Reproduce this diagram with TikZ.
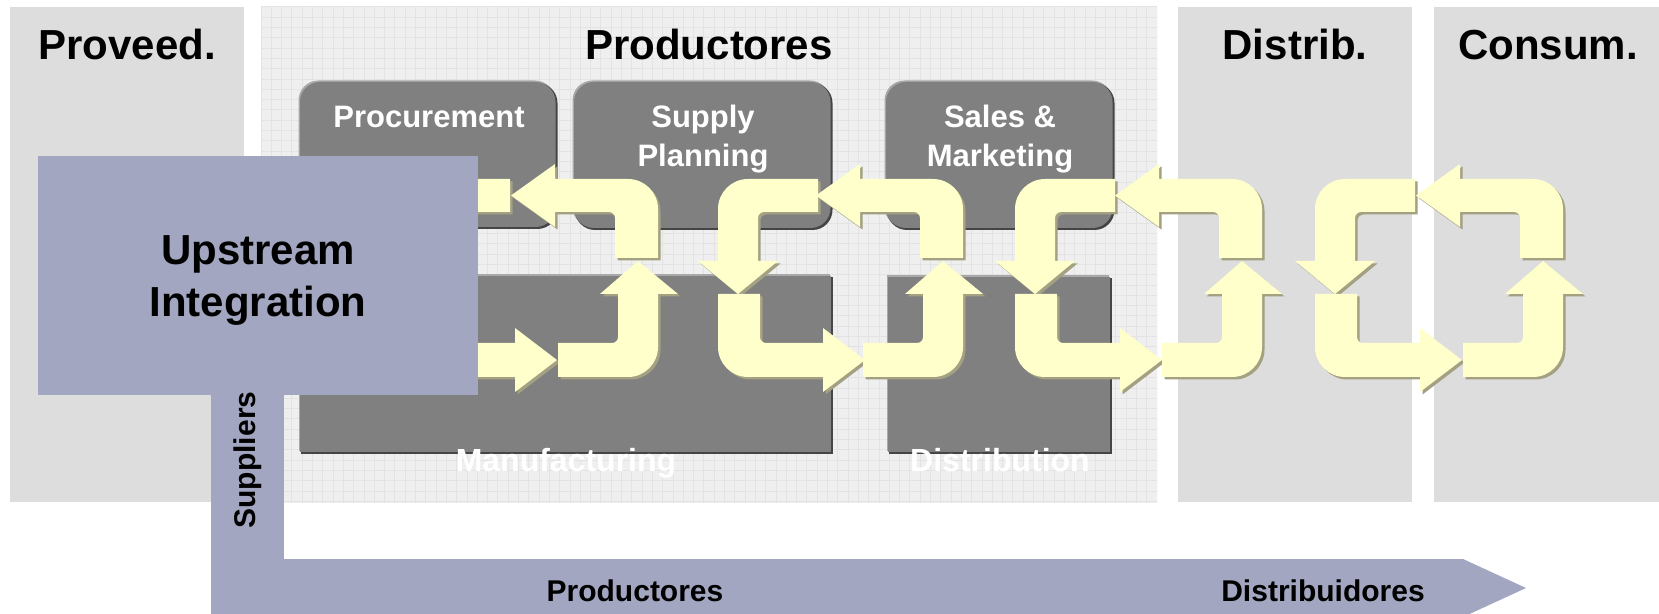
\documentclass[tikz,border=0pt]{standalone}
\usepackage{fontspec}
\setmainfont{Liberation Sans}
\definecolor{panelgray}{HTML}{DDDDDD}
\definecolor{gridbg}{HTML}{EFEFEF}
\definecolor{gridln}{HTML}{E3E3E3}
\definecolor{boxgray}{HTML}{808080}
\definecolor{boxlite}{HTML}{A8A8A8}
\definecolor{boxdark}{HTML}{454545}
\definecolor{bluegray}{HTML}{A2A6C0}
\definecolor{ayel}{HTML}{FFFFCC}
\definecolor{ashad}{HTML}{A3A182}
\tikzset{
  title/.style={font=\fontsize{21pt}{25pt}\selectfont\bfseries, anchor=base, inner sep=0pt},
  boxlabel/.style={font=\fontsize{15.5pt}{19.5pt}\selectfont\bfseries, text=white, align=center, anchor=base, inner sep=0pt},
  sublabel/.style={font=\fontsize{16pt}{19pt}\selectfont\bfseries, text=white, anchor=base, inner sep=0pt},
  uplabel/.style={font=\fontsize{21pt}{26pt}\selectfont\bfseries, align=center, anchor=base, inner sep=0pt},
  botlabel/.style={font=\fontsize{15pt}{18pt}\selectfont\bfseries, anchor=base, inner sep=0pt},
  gridline/.style={draw=gridln, line width=0.5pt},
  shadowshift/.style={ashad, shift={(2.5,2.5)}}
}
% dark box: x0 y0 x1 y1 radius
\newcommand{\DBox}[5]{%
  \fill[boxlite, rounded corners=#5] (#1-1.5,#2-1.5) rectangle (#3-1,#4-1);
  \fill[boxdark, rounded corners=#5] (#1+1,#2+1) rectangle (#3+1.5,#4+2);
  \fill[boxgray, rounded corners=#5] (#1,#2) rectangle (#3-0.5,#4);
}
% ")" upper piece, relative to outer right edge
\newcommand{\ShpRT}[1]{\fill[#1] (-43,258) -- (-43,218) arc[start angle=0, end angle=-90, radius=6] -- (-103,212) -- (-103,227) -- (-147,195.5) -- (-103,164) -- (-103,179) -- (-30,179) arc[start angle=-90, end angle=0, radius=30] -- (0,258) -- cycle;}
% ")" lower piece
\newcommand{\ShpRB}[1]{\fill[#1] (-100,343) -- (-46,343) arc[start angle=90, end angle=0, radius=6] -- (-40,294) -- (-58,294) -- (-20,261) -- (20,294) -- (0,294) -- (0,347) arc[start angle=0, end angle=90, radius=30] -- (-100,377) -- cycle;}
% "(" upper piece, relative to outer left edge
\newcommand{\ShpLT}[1]{\fill[#1] (100,179) -- (30,179) arc[start angle=-90, end angle=-180, radius=30] -- (0,261) -- (-20,261) -- (20,294) -- (60,261) -- (40,261) -- (40,218) arc[start angle=180, end angle=270, radius=6] -- (100,212) -- cycle;}
% "(" lower piece
\newcommand{\ShpLB}[1]{\fill[#1] (0,294) -- (0,347) arc[start angle=180, end angle=90, radius=30] -- (105,377) -- (105,392) -- (147,360) -- (105,328) -- (105,343) -- (48,343) arc[start angle=90, end angle=180, radius=6] -- (42,294) -- cycle;}
\begin{document}
\begin{tikzpicture}[x=0.5pt,y=-0.5pt]
\useasboundingbox (0,0) rectangle (1659,614);
\clip (0,0) rectangle (1659,614);
\fill[white] (0,0) rectangle (1659,614);
% panels
\fill[panelgray] (10,7) rectangle (244,502);
\fill[gridbg] (261,7) rectangle (1157,503);
\begin{scope}
  \clip (261,7) rectangle (1157,503);
  \foreach \i in {0,...,87} \draw[gridline] ({261+10.3*\i},7) -- ({261+10.3*\i},503);
  \foreach \j in {0,...,48} \draw[gridline] (261,{7+10.3*\j}) -- (1157,{7+10.3*\j});
\end{scope}
\fill[panelgray] (1178,7) rectangle (1412,502);
\fill[panelgray] (1434,7) rectangle (1659,502);
% titles
\node[title] (tProv) at (127,60) {Proveed.};
\node[title] (tProd) at (709,60) {Productores};
\node[title] (tDist) at (1295,60) {Distrib.};
\node[title] (tCons) at (1548,60) {Consum.};
% dark function boxes
\DBox{300}{82}{556}{227}{10pt}
\DBox{574}{82}{831}{228}{10pt}
\DBox{886}{82}{1113}{228}{10pt}
\DBox{300}{276}{831}{452}{0pt}
\DBox{888}{277}{1110}{452}{0pt}
\node[boxlabel] (procL) at (429,128) {Procurement};
\node[boxlabel] (supL) at (703,167) {Supply\\Planning};
\node[boxlabel] (salL) at (1000,167) {Sales \&\\Marketing};
\node[sublabel] (manL) at (566,472) {Manufacturing};
\node[sublabel] (disL) at (1000,472) {Distribution};
% yellow loop arrows: shadows first
\foreach \L in {410,718,1015,1315} {
  \begin{scope}[shift={(\L,0)}]
    \ShpLT{shadowshift}\ShpLB{shadowshift}
  \end{scope}}
\foreach \R in {658,963,1262,1563} {
  \begin{scope}[shift={(\R,0)}]
    \ShpRT{shadowshift}\ShpRB{shadowshift}
  \end{scope}}
\foreach \L in {410,718,1015,1315} {
  \begin{scope}[shift={(\L,0)}]
    \ShpLT{ayel}\ShpLB{ayel}
  \end{scope}}
\foreach \R in {658,963,1262,1563} {
  \begin{scope}[shift={(\R,0)}]
    \ShpRT{ayel}\ShpRB{ayel}
  \end{scope}}
% upstream integration, suppliers bar, bottom arrow
\fill[bluegray] (38,156) rectangle (478,395);
\fill[bluegray] (211,390) rectangle (284,565);
\fill[bluegray] (211,559) -- (1463,559) -- (1526,588) -- (1463,617) -- (211,617) -- cycle;
\node[uplabel] (upL) at (258,317) {Upstream\\Integration};
\node[botlabel, rotate=90, anchor=center] (supL2) at (248,460) {Suppliers};
\node[botlabel] (bProd) at (635,601) {Productores};
\node[botlabel] (bDist) at (1323,601) {Distribuidores};
\end{tikzpicture}
\end{document}
